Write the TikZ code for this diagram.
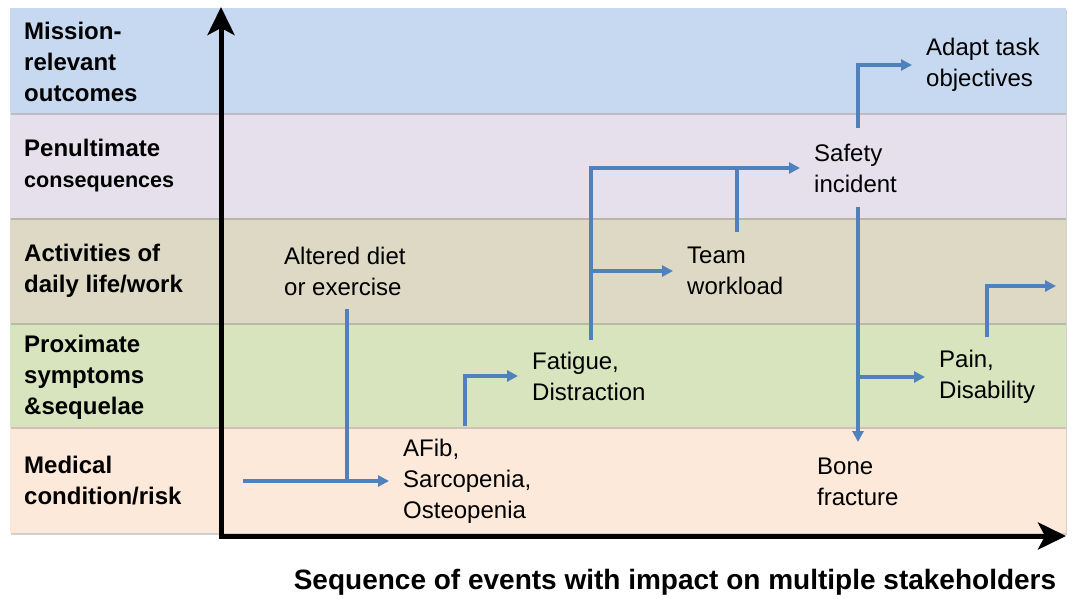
\documentclass[tikz,border=0pt]{standalone}
\usepackage{fontspec}
\setmainfont{Liberation Sans}
\usetikzlibrary{arrows.meta,shadows,calc}
\definecolor{bandblue}{HTML}{C6D9F0}
\definecolor{bandlav}{HTML}{E5E0EC}
\definecolor{bandtan}{HTML}{DDD9C4}
\definecolor{bandgreen}{HTML}{D7E4BD}
\definecolor{bandpeach}{HTML}{FDE9D9}
\definecolor{flowblue}{HTML}{4F81BD}
\tikzset{
  band/.style={fill=#1, draw=none, drop shadow={shadow xshift=0.5pt, shadow yshift=-2pt, opacity=0.3, fill=black!60}},
  rowlabel/.style={anchor=west, align=left, inner sep=0pt, font=\bfseries\fontsize{24}{31}\selectfont},
  evt/.style={anchor=west, align=left, inner xsep=14pt, inner ysep=0pt, font=\fontsize{24}{31}\selectfont},
  flow/.style={draw=flowblue, line width=3.2pt, -{Triangle[length=11pt,width=11pt]}},
  link/.style={draw=flowblue, line width=3.2pt},
  axis/.style={draw=black, line width=5pt, line join=miter, {Stealth[length=28pt,width=27pt,inset=7pt]}-{Stealth[length=28pt,width=27pt,inset=7pt]}},
}
\begin{document}
\begin{tikzpicture}[x=1pt,y=-1pt]
\useasboundingbox[fill=white] (0,0) rectangle (1092,599);
% bands, bottom to top so upper shadows overlap lower bands
\path[band=bandpeach] (10,427) rectangle (1066,533);
\path[band=bandgreen] (10,323) rectangle (1066,427);
\path[band=bandtan]   (10,218) rectangle (1066,323);
\path[band=bandlav]   (10,113) rectangle (1066,218);
\path[band=bandblue]  (10,8)   rectangle (1066,113);
% row labels
\node[rowlabel] (lmission) at (24,62) {Mission-\\relevant\\outcomes};
\node[rowlabel] (lpen) at (24,166) {Penultimate\\{\fontsize{21.6}{31}\selectfont consequences}};
\node[rowlabel] (lact) at (24,271) {Activities of\\daily life/work};
\node[rowlabel] (lprox) at (24,377) {Proximate\\symptoms\\\&sequelae};
\node[rowlabel] (lmed) at (24,481) {Medical\\condition/risk};
% axes
\coordinate (ytip) at (221,7);
\coordinate (origin) at (221,536);
\coordinate (xtip) at (1066,536);
\draw[axis] (ytip) -- (origin) -- (xtip);
\node[font=\bfseries\fontsize{28}{34}\selectfont, inner sep=0pt] (title) at (675,582) {Sequence of events with impact on multiple stakeholders};
% events
\node[evt] (altered) at (270,271) {Altered diet\\or exercise};
\node[evt] (afib) at (389,481) {AFib,\\Sarcopenia,\\Osteopenia};
\node[evt] (fatigue) at (518,376) {Fatigue,\\Distraction};
\node[evt] (team) at (673,271) {Team\\workload};
\node[evt] (safety) at (800,168) {Safety\\incident};
\node[evt] (adapt) at (912,65) {Adapt task\\objectives};
\node[evt] (pain) at (925,377) {Pain,\\Disability};
\node[evt] (bone) at (803,482) {Bone\\fracture};
% connector end points
\coordinate (s1) at (243,481);
\coordinate (s2) at (347,309);
\coordinate (s3) at (465,426);
\coordinate (s4) at (591,340);
\coordinate (s5) at (737,232);
\coordinate (s6) at (858,128);
\coordinate (s7) at (858,207);
\coordinate (e7) at (858,442);
\coordinate (s8) at (987,337);
\coordinate (e8) at (1056,286);
% connectors
\draw[flow] (s1) -- (afib.west);
\draw[link] (s2) -- (s2 |- afib.west);
\draw[flow] (s3) |- (fatigue.west);
\draw[flow] (s4) |- (safety.west);
\draw[flow] (s4 |- team.west) -- (team.west);
\draw[link] (s5) -- (s5 |- safety.west);
\draw[flow] (s6) |- (adapt.west);
\draw[flow] (s7) -- (e7);
\draw[flow] (s7 |- pain.west) -- (pain.west);
\draw[flow] (s8) |- (e8);
\end{tikzpicture}
\end{document}
